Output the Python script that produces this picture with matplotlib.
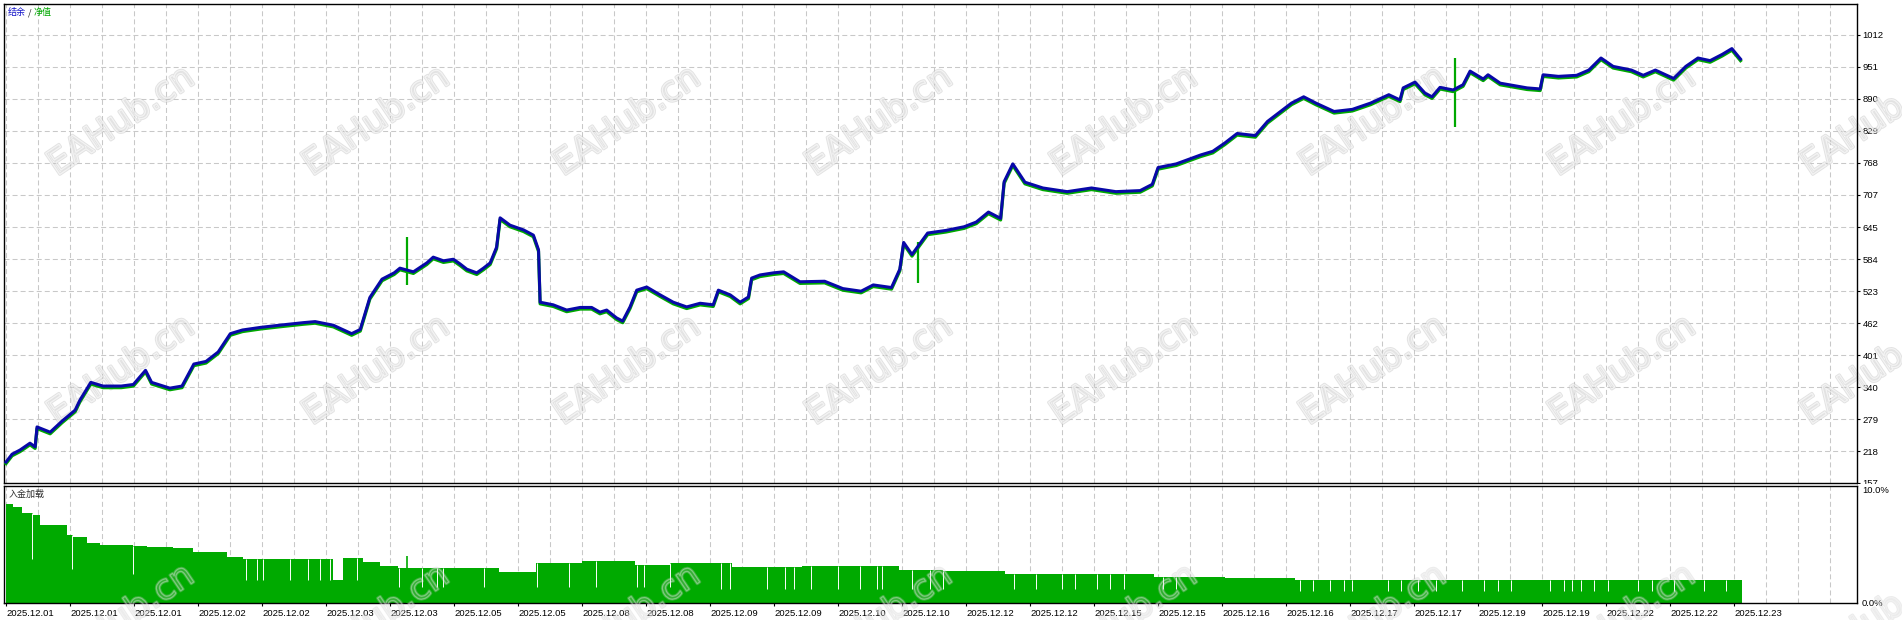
import numpy as np
import matplotlib
matplotlib.use('Agg')
from matplotlib import pyplot as plt
from matplotlib import patheffects, transforms
from matplotlib.patches import Rectangle

plt.rcParams['font.family'] = ['Liberation Sans', 'Noto Sans CJK SC', 'DejaVu Sans']
plt.rcParams['lines.scale_dashes'] = False

# balance curve (x in chart grid steps, one date label every 2 steps)
bal_t = [0, 0.19, 0.44, 0.75, 0.91, 0.97, 1.38, 1.75, 2.16, 2.31, 2.65, 3.03, 3.60, 3.98,
         4.36, 4.55, 5.12, 5.50, 5.87, 6.25, 6.63, 7.01, 7.39, 7.96, 8.53, 9.29, 9.66,
         10.23, 10.80, 11.07, 11.37, 11.75, 12.13, 12.31, 12.73, 13.15, 13.35, 13.67,
         13.98, 14.19, 14.40, 14.71, 14.92, 15.13, 15.33, 15.44, 15.75, 16.17, 16.48,
         16.64, 16.69, 17.10, 17.52, 17.94, 18.30, 18.56, 18.77, 19.08, 19.27, 19.50,
         19.71, 20.02, 20.44, 20.85, 21.27, 21.69, 22.10, 22.26, 22.63, 22.94, 23.20,
         23.30, 23.56, 23.98, 24.30, 24.81, 25.58, 26.15, 26.72, 27.10, 27.67, 27.93,
         28.05, 28.31, 28.80, 29.37, 29.94, 30.32, 30.70, 31.08, 31.19, 31.46, 31.84,
         32.40, 33.16, 33.92, 34.68, 35.44, 35.82, 36.00, 36.57, 37.33, 37.71, 38.09,
         38.47, 39.04, 39.42, 40.17, 40.55, 40.93, 41.50, 42.07, 42.64, 43.21, 43.56,
         43.66, 44.03, 44.34, 44.56, 44.81, 45.22, 45.53, 45.75, 46.16, 46.31, 46.69,
         47.53, 47.94, 48.03, 48.51, 49.08, 49.46, 49.84, 50.22, 50.79, 51.16, 51.54,
         52.11, 52.49, 52.87, 53.25, 53.63, 53.93, 54.20]
bal_v = [197, 212, 220, 233, 226, 264, 254, 275, 296, 315, 349, 342, 342, 345,
         372, 349, 338, 342, 384, 389, 407, 442, 449, 454, 458, 463, 465,
         458, 442, 450, 511, 546, 558, 567, 560, 577, 588, 581,
         584, 575, 565, 558, 567, 577, 607, 663, 649, 640, 630,
         602, 502, 497, 487, 492, 492, 483, 487, 472, 466, 493,
         525, 531, 516, 502, 493, 500, 497, 525, 516, 502, 512,
         548, 554, 558, 560, 541, 542, 528, 523, 535, 530, 565,
         616, 593, 634, 639, 646, 655, 674, 662, 732, 766, 731,
         720, 713, 720, 713, 715, 727, 759, 766, 783, 790, 806,
         824, 820, 847, 882, 894, 882, 866, 870, 882, 898, 888,
         911, 922, 901, 894, 912, 907, 917, 943, 928, 936, 920,
         911, 909, 936, 933, 935, 945, 968, 952, 945, 935, 945,
         929, 952, 968, 963, 975, 986, 966]

# equity spikes
spike_t = [12.53, 28.50, 45.28]
spike_lo = [535, 539, 836]
spike_hi = [626, 616, 968]

# deposit load (%) - bar tops, stepwise
env_t = [0, 0.22, 0.50, 0.84, 1.06, 1.91, 2.09, 2.53, 2.94, 3.97, 4.41, 5.22, 5.84,
         6.91, 7.41, 10.22, 10.53, 11.16, 11.69, 12.25, 15.41, 16.56, 18.00, 19.66,
         20.75, 22.69, 24.88, 27.91, 29.28, 31.22, 35.88, 38.09, 40.28, 44.69, 54.25]
env_v = [8.46, 8.23, 7.70, 7.50, 6.67, 5.80, 5.60, 5.10, 4.96, 4.87, 4.80, 4.70, 4.40,
         3.90, 3.76, 2.00, 3.85, 3.50, 3.20, 3.00, 2.65, 3.40, 3.60, 3.25,
         3.40, 3.10, 3.20, 2.80, 2.70, 2.45, 2.25, 2.10, 2.00, 1.95, 1.95]
dip_t = [0.81, 2.06, 3.97, 7.50, 7.84, 8.03, 8.88, 9.44, 9.81, 10.13, 10.97,
         12.28, 13.00, 13.47, 13.66, 14.94, 16.59, 17.59, 18.44, 19.72, 19.94, 20.75,
         22.34, 22.63, 23.78, 24.34, 24.63, 25.16, 26.00, 26.69, 27.22, 27.38, 28.31,
         28.88, 29.28, 31.50, 32.19, 33.00, 33.41, 34.09, 34.50, 34.94, 36.16, 36.56,
         40.44, 40.84, 41.38, 41.81, 42.06, 43.19, 43.59, 44.13, 44.69, 45.50, 46.19,
         46.63, 47.03, 48.25, 48.69, 48.94, 49.22, 49.63, 50.06, 51.00, 51.44, 52.13,
         53.06, 53.75]
dip_v = [3.8, 2.9, 2.5, 2.0, 2.0, 2.0, 2.0, 2.0, 2.0, 2.0, 2.0,
         1.4, 1.4, 1.4, 1.4, 1.4, 1.4, 1.4, 1.4, 1.4, 1.4, 1.4,
         1.2, 1.2, 1.2, 1.2, 1.2, 1.2, 1.2, 1.2, 1.2, 1.2, 1.2,
         1.2, 1.2, 1.2, 1.2, 1.2, 1.2, 1.2, 1.2, 1.2, 1.2, 1.2,
         1.0, 1.0, 1.0, 1.0, 1.0, 1.0, 1.0, 1.0, 1.0, 1.0, 1.0,
         1.0, 1.0, 1.0, 1.0, 1.0, 1.0, 1.0, 1.0, 1.0, 1.0, 1.0,
         1.0, 1.0]
load_spike_t = [12.53]
load_spike_v = [4.0]

y_ticks = [157, 218, 279, 340, 401, 462, 523, 584, 645, 707, 768, 829, 890, 951, 1012]
date_labels = (['2025.12.01'] * 3 + ['2025.12.02'] * 2 + ['2025.12.03'] * 2 +
               ['2025.12.05'] * 2 + ['2025.12.08'] * 2 + ['2025.12.09'] * 2 +
               ['2025.12.10'] * 2 + ['2025.12.12'] * 2 + ['2025.12.15'] * 2 +
               ['2025.12.16'] * 2 + ['2025.12.17'] * 2 + ['2025.12.19'] * 2 +
               ['2025.12.22'] * 2 + ['2025.12.23'])

BLUE = '#0808a8'
GREEN = '#00a800'
BAR = '#00aa00'
GRID = '#c8c8c8'
W, H = 1902, 620

fig = plt.figure(figsize=(W / 100, H / 100), dpi=100)
ax = fig.add_axes([4 / W, (H - 483) / H, 1853 / W, 479 / H])
ax2 = fig.add_axes([4 / W, (H - 603) / H, 1853 / W, 117 / H], sharex=ax)
ax2.set_zorder(2)

dash = (0, (3.6, 2.2))
for a in (ax, ax2):
    a.set_xticks(np.arange(0, 2 * len(date_labels), 2))
    a.set_xticks(np.arange(0, 58), minor=True)
    a.grid(True, which='both', axis='x', color=GRID, lw=0.75, ls=dash, zorder=0)
    a.set_axisbelow(True)
    for s in a.spines.values():
        s.set_color('black')
        s.set_linewidth(1.0)
ax.grid(True, axis='y', color=GRID, lw=0.75, ls=dash)

# watermark: upper rows sit under the curves, bottom row over the load bars
wm_x = [121, 376, 627, 879, 1124, 1373, 1622, 1874]
wm_y = [121, 370, 619]
for yy in wm_y:
    for xx in wm_x:
        in_main = yy < 483
        owner = ax if in_main else fig
        kw = dict(transform=fig.transFigure) if in_main else {}
        a_out, a_in = (0.45, 0.6) if in_main else (0.3, 0.35)
        owner.text(xx / W, 1 - yy / H, 'EAHub.cn', rotation=34, rotation_mode='anchor',
                   ha='center', va='center', fontsize=25, family='DejaVu Sans',
                   color='none', zorder=1.5 if in_main else 10, clip_on=False,
                   path_effects=[patheffects.Stroke(linewidth=2.2, foreground=(0.75, 0.75, 0.75, a_out)),
                                 patheffects.Stroke(linewidth=0.9, foreground=(1, 1, 1, a_in))],
                   **kw)

# main panel
shift = transforms.ScaledTranslation(0, -1.6 / 100, fig.dpi_scale_trans)
ax.vlines(spike_t, spike_lo, spike_hi, color=GREEN, lw=1.6, zorder=2)
ax.plot(bal_t, bal_v, color=GREEN, lw=2.3, transform=ax.transData + shift, zorder=3)
ax.plot(bal_t, bal_v, color=BLUE, lw=2.2, zorder=4)
ax.set_ylim(157, 1071.1)
ax.set_xlim(-0.0625, 57.84)
ax.set_yticks(y_ticks)
ax.set_yticklabels([str(v) for v in y_ticks])
ax.yaxis.tick_right()
ax.tick_params(axis='y', length=2.5, width=0.8, pad=1.5, labelsize=6.8, colors='black')
ax.tick_params(axis='x', which='both', bottom=False, labelbottom=False)

t1 = ax.annotate('结余', xy=(0, 1), xycoords='axes fraction', xytext=(2.8, -3.2),
                 textcoords='offset points', va='top', ha='left', color='#1010c8',
                 fontsize=6.5, family=['Noto Sans CJK SC', 'DejaVu Sans'])
t2 = ax.annotate(' / ', xy=(1, 0), xycoords=t1, va='bottom', ha='left', color='#202020',
                 fontsize=6.5, family=['Noto Sans CJK SC', 'DejaVu Sans'])
ax.annotate('净值', xy=(1, 0), xycoords=t2, va='bottom', ha='left', color=GREEN,
            fontsize=6.5, family=['Noto Sans CJK SC', 'DejaVu Sans'])

# deposit load panel
et = np.array(env_t)
ev = np.array(env_v)
ax2.fill_between(et, 0, ev, step='post', color=BAR, lw=0, zorder=2)
idx = np.searchsorted(et, dip_t, side='right') - 1
ax2.vlines(dip_t, dip_v, ev[idx], color='white', lw=0.7, zorder=3)
ax2.vlines(load_spike_t, 0, load_spike_v, color=BAR, lw=1.2, zorder=3)
ax2.set_ylim(0, 10)
ax2.set_yticks([0, 10])
ax2.set_yticklabels(['0.0%', '10.0%'])
ax2.yaxis.tick_right()
ax2.tick_params(axis='y', length=0, pad=3.5, labelsize=6.8, colors='black')
for lbl, va in zip(ax2.get_yticklabels(), ['center', 'top']):
    lbl.set_va(va)
ax2.set_xticklabels(date_labels)
ax2.tick_params(axis='x', which='major', length=2.5, width=0.8, pad=1.5, labelsize=6.8,
                colors='black')
ax2.tick_params(axis='x', which='minor', length=0)
for lbl in ax2.get_xticklabels():
    lbl.set_ha('left')
ax2.text(0.0025, 0.97, '入金加载', transform=ax2.transAxes, va='top', ha='left',
         fontsize=6.5, color='#303030', family=['Noto Sans CJK SC', 'DejaVu Sans'])

# hide lower half of the last price label like the terminal does
fig.patches.append(Rectangle((1858 / W, 0), 44 / W, (H - 484) / H, transform=fig.transFigure,
                             facecolor='white', edgecolor='none', zorder=1))

fig.savefig('out.png', dpi=100, facecolor='white')
